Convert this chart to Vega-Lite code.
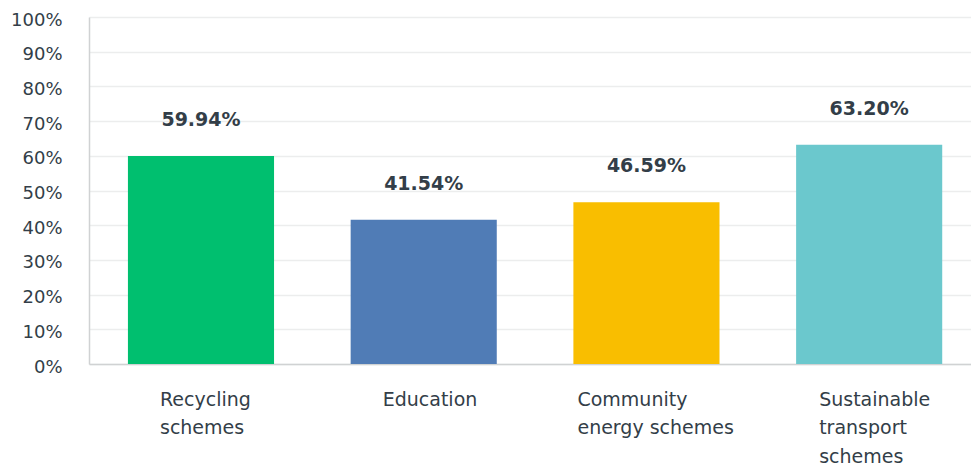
{
  "$schema": "https://vega.github.io/schema/vega-lite/v6.json",
  "width": 882,
  "height": 347,
  "autosize": {"type": "none"},
  "padding": {"left": 89, "top": 17, "right": 0, "bottom": 108},
  "background": "#ffffff",
  "config": {"view": {"stroke": null}, "font": "DejaVu Sans"},
  "data": {"values": [
    {"category": "Recycling schemes", "value": 0.5994, "label": "59.94%"},
    {"category": "Education", "value": 0.4154, "label": "41.54%"},
    {"category": "Community energy schemes", "value": 0.4659, "label": "46.59%"},
    {"category": "Sustainable transport schemes", "value": 0.632, "label": "63.20%"}
  ]},
  "encoding": {
    "x": {
      "field": "category", "type": "nominal", "sort": null,
      "scale": {"paddingInner": 0.344, "paddingOuter": 0.152, "align": 0.575},
      "axis": {
        "title": null, "ticks": false, "domainColor": "#d0d2d3", "domainWidth": 1.5,
        "labelAngle": 0, "labelFont": "DejaVu Sans", "labelFontSize": 19, "labelColor": "#333e48",
        "labelAlign": "left", "labelBaseline": "top", "labelPadding": 26, "labelLineHeight": 28.5,
        "labelExpr": "datum.value == 'Recycling schemes' ? ['Recycling', 'schemes'] : datum.value == 'Community energy schemes' ? ['Community', 'energy schemes'] : datum.value == 'Sustainable transport schemes' ? ['Sustainable', 'transport', 'schemes'] : datum.value",
        "labelOffset": {
          "condition": [
            {"test": "datum.value == 'Community energy schemes'", "value": -69},
            {"test": "datum.value == 'Sustainable transport schemes'", "value": -50}
          ],
          "value": -41
        }
      }
    },
    "y": {
      "field": "value", "type": "quantitative",
      "scale": {"domain": [0, 1], "nice": false},
      "axis": {
        "title": null, "values": [0, 0.1, 0.2, 0.3, 0.4, 0.5, 0.6, 0.7, 0.8, 0.9, 1],
        "format": ".0%", "ticks": false, "domainColor": "#d0d2d3", "domainWidth": 1.5,
        "gridColor": "#eceded", "gridWidth": 1.5,
        "labelFont": "DejaVu Sans", "labelFontSize": 18, "labelColor": "#333e48",
        "labelPadding": 27, "labelOffset": 3
      }
    }
  },
  "layer": [
    {
      "mark": {"type": "bar"},
      "encoding": {
        "color": {
          "field": "category", "type": "nominal", "legend": null,
          "scale": {
            "domain": ["Recycling schemes", "Education", "Community energy schemes", "Sustainable transport schemes"],
            "range": ["#00bf6f", "#507cb6", "#f9be00", "#6bc8cd"]
          }
        }
      }
    },
    {
      "mark": {"type": "text", "dy": -36, "baseline": "middle", "font": "DejaVu Sans", "fontSize": 19, "fontWeight": "bold", "color": "#333e48"},
      "encoding": {"text": {"field": "label"}}
    }
  ]
}
